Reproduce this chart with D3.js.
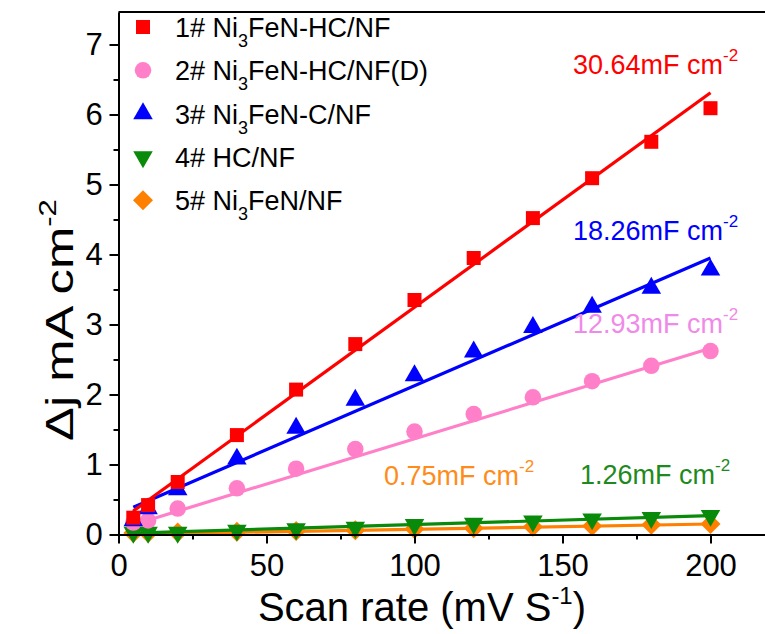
<!DOCTYPE html>
<html>
<head>
<meta charset="utf-8">
<script src="https://cdn.jsdelivr.net/npm/d3@7"></script>
<style>
  body { margin: 0; background: #fff; }
  text { font-family: "Liberation Sans", Arial, sans-serif; }
</style>
</head>
<body>
<div id="chart"></div>
<script>
// scan rates (mV/s)
var scanRate = [5, 10, 20, 40, 60, 80, 100, 120, 140, 160, 180, 200];

// delta j (mA cm-2) per sample
var s1 = [0.24, 0.42, 0.75, 1.42, 2.07, 2.72, 3.35, 3.95, 4.52, 5.09, 5.61, 6.09];
var s2 = [0.17, 0.20, 0.37, 0.66, 0.94, 1.22, 1.47, 1.72, 1.96, 2.19, 2.41, 2.62];
var s3 = [0.20, 0.37, 0.64, 1.08, 1.52, 1.92, 2.27, 2.61, 2.96, 3.25, 3.52, 3.78];
var s4 = [0.03, 0.03, 0.03, 0.06, 0.08, 0.10, 0.14, 0.16, 0.19, 0.22, 0.24, 0.27];
var s5 = [0.02, 0.02, 0.03, 0.04, 0.05, 0.06, 0.08, 0.09, 0.11, 0.12, 0.14, 0.15];

// linear fits, value at 5 and at 200 mV/s
var fitX = [5, 200];
var fit1 = [0.335, 6.31];
var fit2 = [0.14, 2.66];
var fit3 = [0.39, 3.95];
var fit4 = [0.02, 0.27];
var fit5 = [0.005, 0.15];

var capLabels = ["30.64", "12.93", "18.26", "1.26", "0.75"];
var yTicks = [0, 1, 2, 3, 4, 5, 6, 7];
var xTicks = [0, 50, 100, 150, 200];

var series = [
  {name: "1# Ni", sub: "3", rest: "FeN-HC/NF", vals: s1, fit: fit1, color: "#ff0000", lab: "#ff0000", sym: "square", cap: capLabels[0], lx: 573, ly: 74},
  {name: "2# Ni", sub: "3", rest: "FeN-HC/NF(D)", vals: s2, fit: fit2, color: "#ff80c8", lab: "#f08ae8", sym: "circle", cap: capLabels[1], lx: 573, ly: 333},
  {name: "3# Ni", sub: "3", rest: "FeN-C/NF", vals: s3, fit: fit3, color: "#0000ff", lab: "#0000ff", sym: "up", cap: capLabels[2], lx: 573, ly: 240},
  {name: "4# HC/NF", sub: "", rest: "", vals: s4, fit: fit4, color: "#0a8a0a", lab: "#1e8a1e", sym: "down", cap: capLabels[3], lx: 580, ly: 484},
  {name: "5# Ni", sub: "3", rest: "FeN/NF", vals: s5, fit: fit5, color: "#ff8000", lab: "#ff8c1a", sym: "diamond", cap: capLabels[4], lx: 384, ly: 485}
];

var W = 765, H = 634;
var x0 = 118.5, yBase = 534.5, yTop = 12;

var x = d3.scaleLinear().domain([0, 220]).range([x0, x0 + 220 * 2.96]);
var y = d3.scaleLinear().domain([0, (yBase - yTop) / 70]).range([yBase, yTop]);

var svg = d3.select("#chart").append("svg")
  .attr("width", W).attr("height", H);

function symPath(kind) {
  if (kind === "square") return d3.symbol().type(d3.symbolSquare).size(196)();
  if (kind === "circle") return d3.symbol().type(d3.symbolCircle).size(215)();
  if (kind === "diamond") return d3.symbol().type(d3.symbolSquare).size(200)();
  return d3.symbol().type(d3.symbolTriangle).size(165)();
}
function symRot(kind) {
  if (kind === "diamond") return 45;
  if (kind === "down") return 180;
  return 0;
}

// fit lines + markers, drawn from lowest series up
var order = [4, 3, 1, 2, 0];
order.forEach(function(i) {
  var s = series[i];
  svg.append("line")
    .attr("x1", x(fitX[0])).attr("y1", y(s.fit[0]))
    .attr("x2", x(fitX[1])).attr("y2", y(s.fit[1]))
    .attr("stroke", s.color).attr("stroke-width", 3.2);
  svg.append("g").selectAll("path")
    .data(s.vals)
    .enter().append("path")
    .attr("d", symPath(s.sym))
    .attr("fill", s.color)
    .attr("transform", function(d, j) {
      return "translate(" + x(scanRate[j]) + "," + y(d) + ") rotate(" + symRot(s.sym) + ")";
    });
});

// axes
var gx = svg.append("g").attr("transform", "translate(0," + yBase + ")")
  .call(d3.axisBottom(x).tickValues(xTicks).tickSize(9).tickSizeOuter(0));
svg.append("g").attr("transform", "translate(0," + yBase + ")")
  .call(d3.axisBottom(x).tickValues([25, 75, 125, 175]).tickSize(5).tickFormat(""))
  .select(".domain").remove();
var gy = svg.append("g").attr("transform", "translate(" + x0 + ",0)")
  .call(d3.axisLeft(y).tickValues(yTicks).tickSize(9).tickSizeOuter(0));
svg.append("g").attr("transform", "translate(" + x0 + ",0)")
  .call(d3.axisLeft(y).tickValues([0.5, 1.5, 2.5, 3.5, 4.5, 5.5, 6.5]).tickSize(5).tickFormat(""))
  .select(".domain").remove();

svg.selectAll(".domain, .tick line").attr("stroke", "#000").attr("stroke-width", 2);
gx.selectAll(".tick text").attr("font-size", 31).attr("dy", "0.95em").attr("fill", "#000")
  .style("font-family", "'Liberation Sans', Arial, sans-serif");
gy.selectAll(".tick text").attr("font-size", 31).attr("dx", "-0.12em").attr("fill", "#000")
  .style("font-family", "'Liberation Sans', Arial, sans-serif");

// top frame
svg.append("line").attr("x1", x0).attr("x2", W + 10)
  .attr("y1", yTop).attr("y2", yTop).attr("stroke", "#000").attr("stroke-width", 2);

// axis titles
var xt = svg.append("text").attr("x", 422).attr("y", 621).attr("text-anchor", "middle")
  .attr("font-size", 40).attr("fill", "#000");
xt.append("tspan").text("Scan rate (mV S");
xt.append("tspan").attr("font-size", 24).attr("dy", -17).text("-1");
xt.append("tspan").attr("dy", 17).text(")");

// y title is a bit stretched along its length in the original
var yt = svg.append("text").attr("transform", "translate(73,320) rotate(-90) scale(1.3,1)")
  .attr("text-anchor", "middle").attr("font-size", 39).attr("fill", "#000");
yt.append("tspan").text("\u0394j mA cm");
yt.append("tspan").attr("font-size", 24).attr("dy", -17).text("-2");

// legend
series.forEach(function(s, i) {
  var ly = 37 + i * 43.3;
  svg.append("path").attr("d", symPath(s.sym)).attr("fill", s.color)
    .attr("transform", "translate(143," + (ly - 10) + ") rotate(" + symRot(s.sym) + ")");
  var t = svg.append("text").attr("x", 175).attr("y", ly).attr("font-size", 27).attr("fill", "#000");
  t.append("tspan").text(s.name);
  if (s.sub) {
    t.append("tspan").attr("font-size", 18).attr("dy", 10).text(s.sub);
    t.append("tspan").attr("dy", -10).text(s.rest);
  }
});

// capacitance labels
series.forEach(function(s) {
  var t = svg.append("text").attr("x", s.lx).attr("y", s.ly).attr("font-size", 27).attr("fill", s.lab);
  t.append("tspan").text(s.cap + "mF cm");
  t.append("tspan").attr("font-size", 17).attr("dy", -13).text("-2");
});
</script>
</body>
</html>
